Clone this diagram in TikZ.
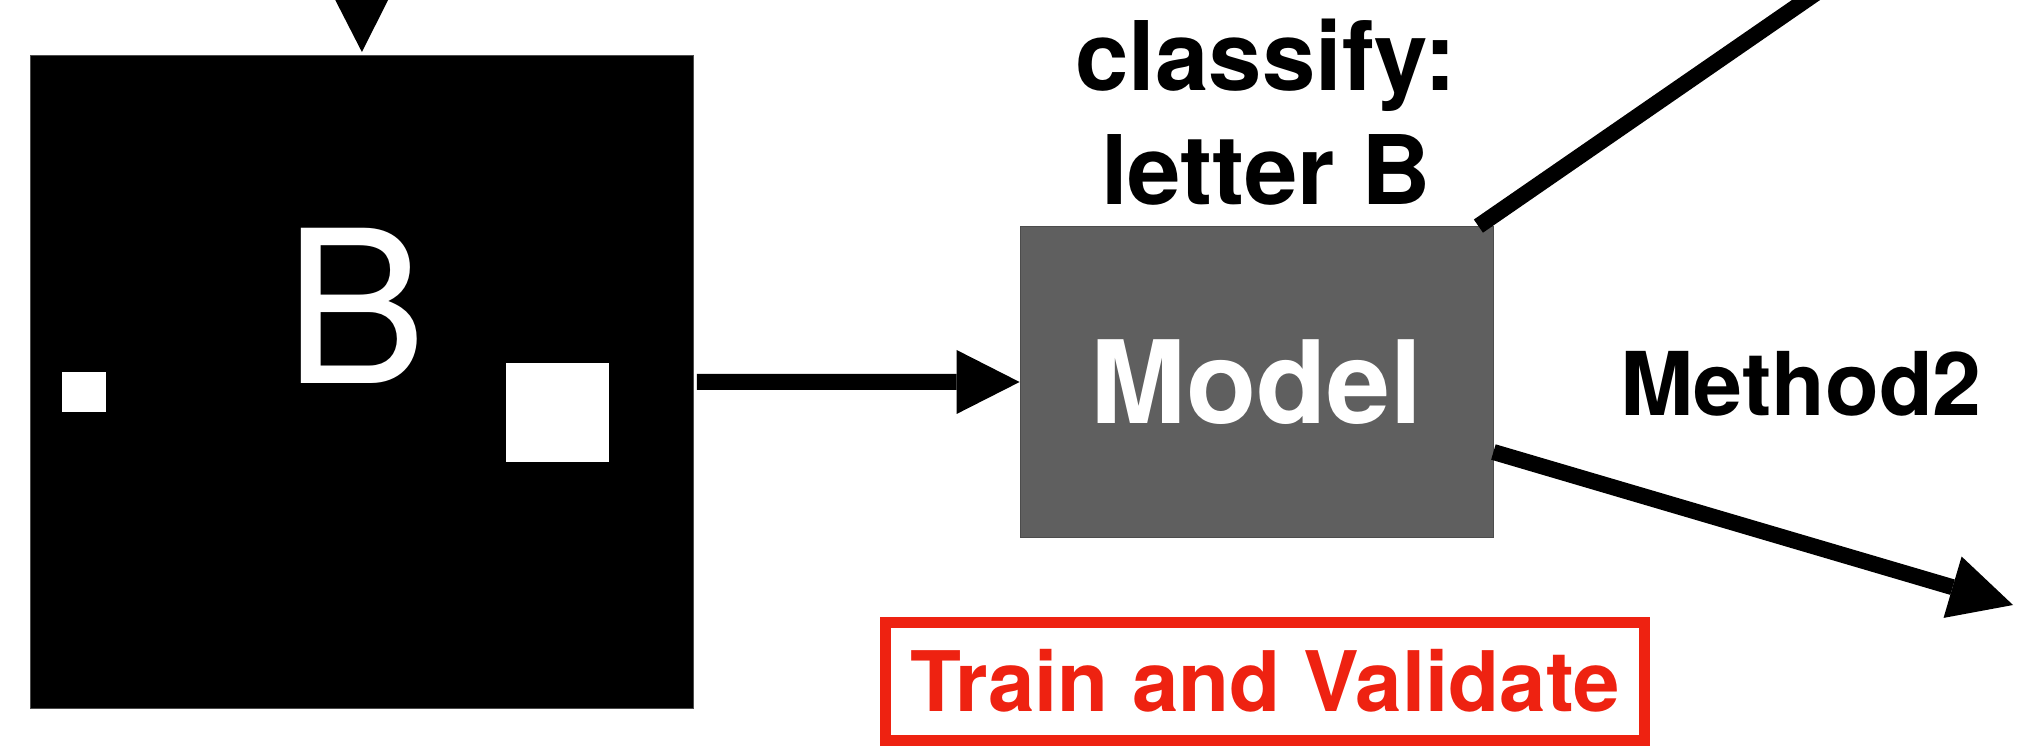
\documentclass[tikz,border=0pt]{standalone}
\usepackage{fontspec}
\setmainfont{TeX Gyre Heros}
\usetikzlibrary{arrows.meta,calc}
\definecolor{modelgray}{HTML}{5F5F5F}
\definecolor{alertred}{HTML}{EE2211}
\tikzset{
  flow/.style={line width=16pt, -{Triangle[length=63pt,width=64pt,line width=0pt]}},
  bare/.style={line width=16pt},
  headline/.style={font=\fontsize{96}{114}\selectfont\bfseries, align=center, inner sep=0pt},
}
\begin{document}
\begin{tikzpicture}[x=1pt,y=-1pt]
  \useasboundingbox (0,0) rectangle (2023,750);
  \clip (0,0) rectangle (2023,750);

  % input image: black square with a letter and two white squares
  \node[fill=black, draw=black!70, line width=0.8pt, minimum width=663pt, minimum height=653pt,
        inner sep=0pt, anchor=north west] (img) at (30,55) {};
  \node[text=white, font=\fontsize{213}{213}\selectfont, inner sep=0pt, anchor=base west] (letter) at (284,383) {B};
  \fill[white] (62,372) rectangle (106,412);
  \fill[white] (506,363) rectangle (609,462);

  % model block
  \node[fill=modelgray, draw=modelgray!80!black, line width=0.8pt, minimum width=473pt, minimum height=311pt,
        inner sep=0pt, text=white, font=\fontsize{115}{115}\selectfont\bfseries] (model) at (1256.5,382) {\raisebox{-4pt}{Model}};

  % labels
  \node[headline, anchor=base] (cls) at (1266,204) {classify:\\letter B};
  \node[font=\fontsize{88}{88}\selectfont\bfseries, inner sep=0pt, anchor=base] (m2) at (1801,415) {Method2};

  % train and validate box
  \node[draw=alertred, line width=11pt, text=alertred, minimum width=759pt, minimum height=118pt,
        inner sep=0pt, font=\fontsize{83.5}{83.5}\selectfont\bfseries] (tv) at (1265,681) {\raisebox{-6pt}{Train and Validate}};

  % connectors
  \coordinate (topin) at (361,-200);
  \coordinate (upstart) at ($(model.north east)+(-15,0)$);
  \coordinate (upout) at (1806,0);
  \coordinate (uptarget) at ($(upstart)!1.4!(upout)$);
  \coordinate (downout) at (2013,605);

  \draw[flow] (topin) -- ($(img.north)+(0,-3)$);
  \draw[flow] ($(img.east)+(3,0)$) -- (model.west);
  \draw[bare] (upstart) -- (uptarget);
  \draw[flow] ($(model.east)+(0,70)$) -- (downout);
\end{tikzpicture}
\end{document}
